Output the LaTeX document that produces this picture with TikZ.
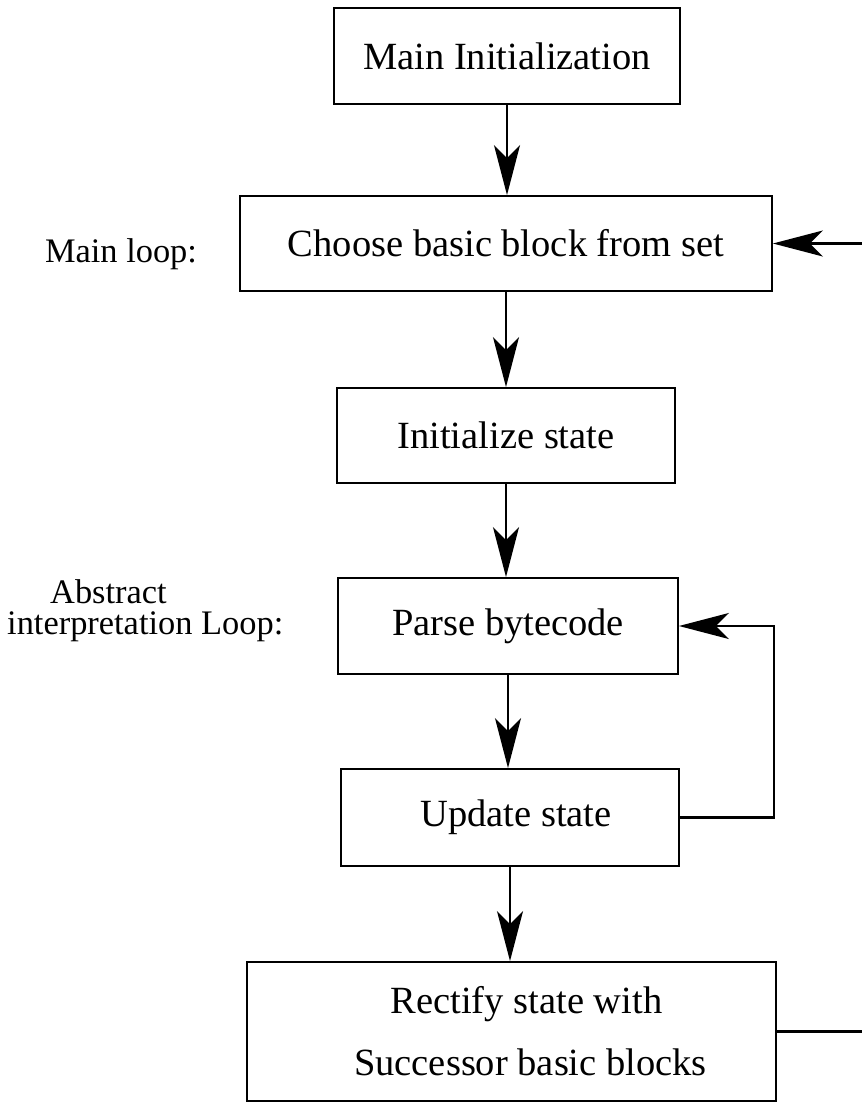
\documentclass[tikz,border=0pt]{standalone}
\usepackage{fontspec}
\setmainfont{Liberation Serif}
\usetikzlibrary{arrows.meta}

\begin{document}
\begin{tikzpicture}[x=1pt, y=-1pt,
  stepbox/.style={draw, line width=1.8pt, inner sep=0pt, align=center,
                  font=\fontsize{38.5}{62}\selectfont},
  sidelabel/.style={inner sep=0pt, align=left, font=\fontsize{34.4}{31}\selectfont},
  conn/.style={line width=2.6pt},
  flow/.style={conn, -{Stealth[length=50pt, width=26pt, inset=13pt]}}
]
  % page frame
  \useasboundingbox (0,0) rectangle (862,1103);

  % process boxes
  \node[stepbox, minimum width=346pt, minimum height=96pt] (init)   at (507,56)    {Main Initialization};
  \node[stepbox, minimum width=532pt, minimum height=95pt] (choose) at (506,243.5) {Choose basic block from set};
  \node[stepbox, minimum width=338pt, minimum height=95pt] (istate) at (506,435.5) {Initialize state};
  \node[stepbox, minimum width=340pt, minimum height=96pt] (parse)  at (508,626)   {Parse bytecode};
  \node[stepbox, minimum width=338pt, minimum height=97pt] (update) at (510,817.5) {\hspace*{12pt}Update state};
  \node[stepbox, minimum width=529pt, minimum height=139pt] (rectify) at (511.5,1031.5)
       {\hspace*{30pt}Rectify state with\\\hspace*{38pt}Successor basic blocks};

  % side labels
  \node[sidelabel, anchor=base] (mainloop) at (121,262) {Main loop:};
  \node[sidelabel, anchor=west] (absloop) at (7,611)
       {\hspace*{43pt}Abstract\\interpretation Loop:};

  % free ends of the outer loop and the loop turn
  \coordinate (loopin)  at (862,243.5);
  \coordinate (loopout) at (862,1031.5);
  \coordinate (turn)    at (774,817.5);

  % main flow
  \draw[flow] (init.south)   -- (init.south |- choose.north);
  \draw[flow] (choose.south) -- (choose.south |- istate.north);
  \draw[flow] (istate.south) -- (istate.south |- parse.north);
  \draw[flow] (parse.south)  -- (parse.south |- update.north);
  \draw[flow] (update.south) -- (update.south |- rectify.north);

  % inner loop: back to parsing
  \draw[flow] (update.east) -- (turn) |- (parse.east);

  % outer loop
  \draw[flow] (loopin) -- (choose.east);
  \draw[conn] (rectify.east) -- (loopout);
\end{tikzpicture}
\end{document}
